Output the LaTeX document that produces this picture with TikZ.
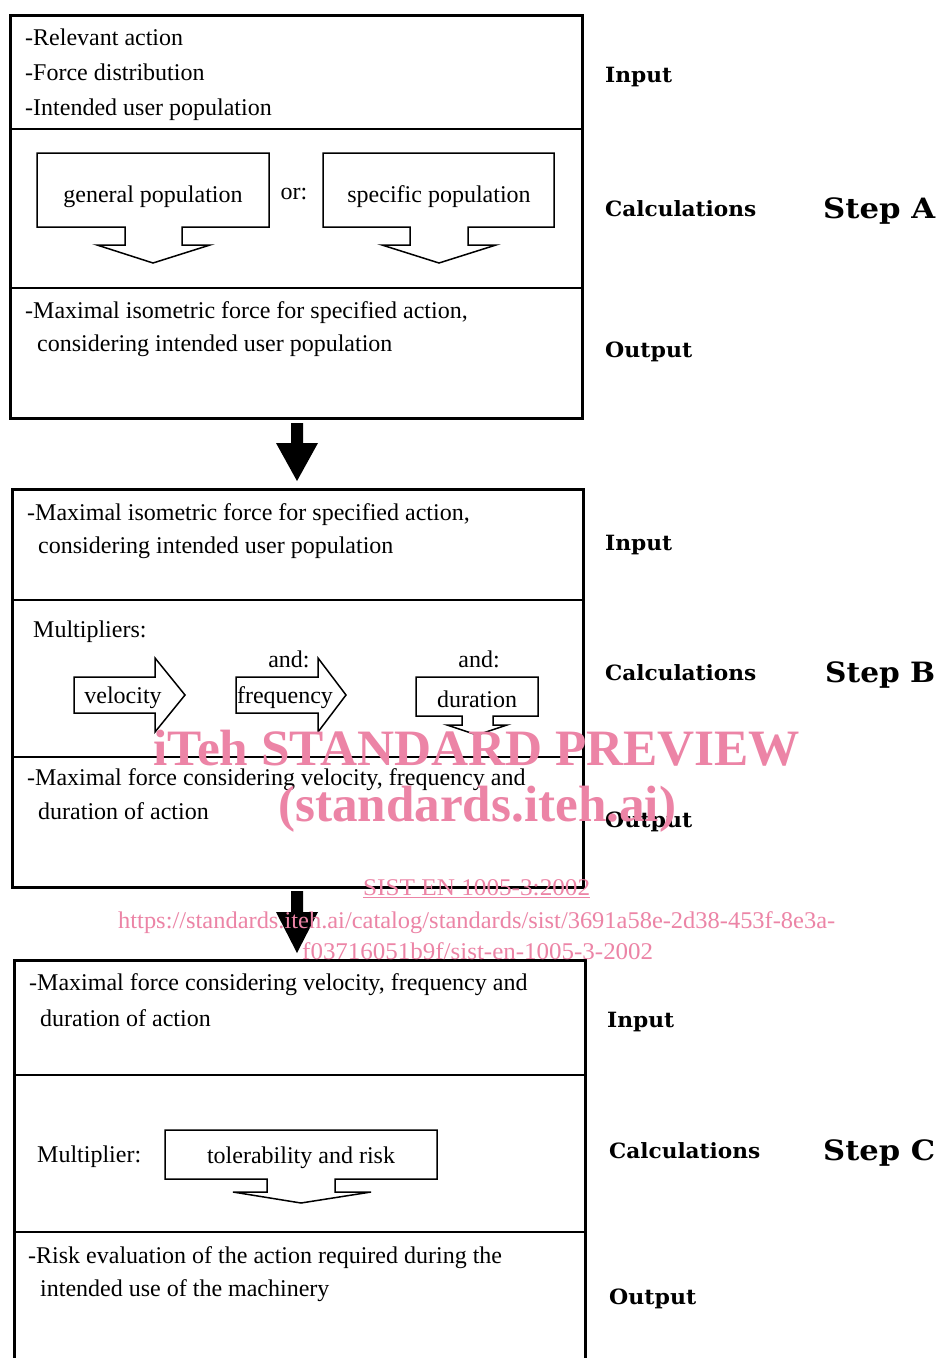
\documentclass[tikz,border=0pt]{standalone}
\usepackage{fontspec}
\setmainfont{Liberation Serif}
\newfontfamily\labfont{DejaVu Serif}
\usepackage{graphicx}
\definecolor{wmpink}{RGB}{236,132,166}
\newcommand\tw[2]{\resizebox{#1pt}{\height}{#2}}
\newcommand\bodyfont{\fontsize{24}{29}\selectfont}
\tikzset{
  outerbox/.style={draw=black, line width=3pt},
  divider/.style={draw=black, line width=2pt},
  shapeline/.style={draw=black, line width=1.5pt, line join=miter, fill=white},
  bigarrow/.style={fill=black, draw=none},
  txt/.style={anchor=base west, inner sep=0pt, font=\bodyfont},
  ctxt/.style={anchor=base, inner sep=0pt, font=\bodyfont},
  lab/.style={anchor=base west, inner sep=0pt, font=\labfont\bfseries\fontsize{21}{25}\selectfont},
  steplab/.style={anchor=base west, inner sep=0pt, font=\labfont\bfseries\fontsize{28}{32}\selectfont},
  wmbig/.style={anchor=base west, inner sep=0pt, text=wmpink, font=\bfseries\fontsize{51}{56}\selectfont},
  wmsmall/.style={anchor=base west, inner sep=0pt, text=wmpink, font=\fontsize{24}{28}\selectfont}
}
\begin{document}
\begin{tikzpicture}[x=1pt,y=-1pt]
\useasboundingbox (0,0) rectangle (940,1358);
\clip (0,0) rectangle (940,1358);
\fill[white] (0,0) rectangle (940,1358);

% ---------------- Step A ----------------
\draw[outerbox] (10,15) rectangle (582,418);
\draw[divider] (10,129) -- (582,129);
\draw[divider] (10,288) -- (582,288);
\node[txt] (a1) at (25,45) {-Relevant action};
\node[txt] (a2) at (25,80) {-Force distribution};
\node[txt] (a3) at (25,115) {-Intended user population};
\draw[shapeline] (37,153) -- (269,153) -- (269,227) -- (182,227) -- (182,245) -- (210,245)
  -- (153,263) -- (97,245) -- (125,245) -- (125,227) -- (37,227) -- cycle;
\node[ctxt] (gen) at (153,202) {general population};
\node[ctxt] (or) at (294,199) {or:};
\draw[shapeline] (323,153) -- (554,153) -- (554,227) -- (468,227) -- (468,245) -- (496,245)
  -- (439,263) -- (382,245) -- (410,245) -- (410,227) -- (323,227) -- cycle;
\node[ctxt] (spec) at (439,202) {specific population};
\node[txt] (a4) at (25,318) {-Maximal isometric force for specified action,};
\node[txt] (a5) at (37,351) {considering intended user population};
\node[lab] (inA) at (605,82) {\tw{67}{Input}};
\node[lab] (calcA) at (605,216) {\tw{151}{Calculations}};
\node[steplab] (stepA) at (823,218) {\tw{112}{Step A}};
\node[lab] (outA) at (605,357) {\tw{87}{Output}};

% arrow A -> B
\fill[bigarrow] (291,423) -- (303,423) -- (303,443) -- (318,443) -- (297,481) -- (276,443) -- (291,443) -- cycle;

% ---------------- Step B ----------------
\draw[outerbox] (12,489) rectangle (583,887);
\draw[divider] (12,600) -- (583,600);
\draw[divider] (12,757) -- (583,757);
\node[txt] (b1) at (27,520) {-Maximal isometric force for specified action,};
\node[txt] (b2) at (38,553) {considering intended user population};
\node[txt] (mult) at (33,637) {Multipliers:};
\draw[shapeline] (74,677) -- (155,677) -- (155,658) -- (185,695) -- (155,732) -- (155,713) -- (74,713) -- cycle;
\node[ctxt] (vel) at (123,703) {velocity};
\draw[shapeline] (236,677) -- (318,677) -- (318,658) -- (346,695) -- (318,732) -- (318,713) -- (236,713) -- cycle;
\node[ctxt] (freq) at (285,703) {frequency};
\node[ctxt] (and1) at (289,667) {and:};
\draw[shapeline] (416,677) -- (538,677) -- (538,716) -- (493,716) -- (493,725) -- (507,725)
  -- (477,735) -- (447,725) -- (462,725) -- (462,716) -- (416,716) -- cycle;
\node[ctxt] (dur) at (477,707) {duration};
\node[ctxt] (and2) at (479,667) {and:};
\node[txt] (b3) at (27,785) {-Maximal force considering velocity, frequency and};
\node[txt] (b4) at (38,819) {duration of action};
\node[lab] (inB) at (605,550) {\tw{67}{Input}};
\node[lab] (calcB) at (605,680) {\tw{151}{Calculations}};
\node[steplab] (stepB) at (825,682) {\tw{110}{Step B}};
\node[lab] (outB) at (605,827) {\tw{87}{Output}};

% arrow B -> C
\fill[bigarrow] (291,891) -- (303,891) -- (303,912) -- (318,912) -- (297,953) -- (276,912) -- (291,912) -- cycle;

% ---------------- Step C ----------------
\draw[outerbox] (14,960) rectangle (585,1380);
\draw[divider] (14,1075) -- (585,1075);
\draw[divider] (14,1232) -- (585,1232);
\node[txt] (c1) at (29,990) {-Maximal force considering velocity, frequency and};
\node[txt] (c2) at (40,1026) {duration of action};
\node[txt] (mult2) at (37,1162) {Multiplier:};
\draw[shapeline] (165,1130) -- (437,1130) -- (437,1179) -- (335,1179) -- (335,1192) -- (371,1192)
  -- (301,1203) -- (233,1192) -- (267,1192) -- (267,1179) -- (165,1179) -- cycle;
\node[ctxt] (tol) at (301,1163) {tolerability and risk};
\node[txt] (c3) at (28,1263) {-Risk evaluation of the action required during the};
\node[txt] (c4) at (40,1296) {intended use of the machinery};
\node[lab] (inC) at (607,1027) {\tw{67}{Input}};
\node[lab] (calcC) at (609,1158) {\tw{151}{Calculations}};
\node[steplab] (stepC) at (823,1160) {\tw{112}{Step C}};
\node[lab] (outC) at (609,1304) {\tw{87}{Output}};

% ---------------- watermark ----------------
\node[wmbig] (wm1) at (153,765) {\tw{647}{iTeh STANDARD PREVIEW}};
\node[wmbig] (wm2) at (278,821) {\tw{398}{(standards.iteh.ai)}};
\node[wmsmall] (wm3) at (363,895) {\tw{227}{\underline{SIST EN 1005-3:2002}}};
\node[wmsmall] (wm4) at (118,928) {\tw{717}{https://standards.iteh.ai/catalog/standards/sist/3691a58e-2d38-453f-8e3a-}};
\node[wmsmall] (wm5) at (302,959) {\tw{351}{f03716051b9f/sist-en-1005-3-2002}};
\end{tikzpicture}
\end{document}
